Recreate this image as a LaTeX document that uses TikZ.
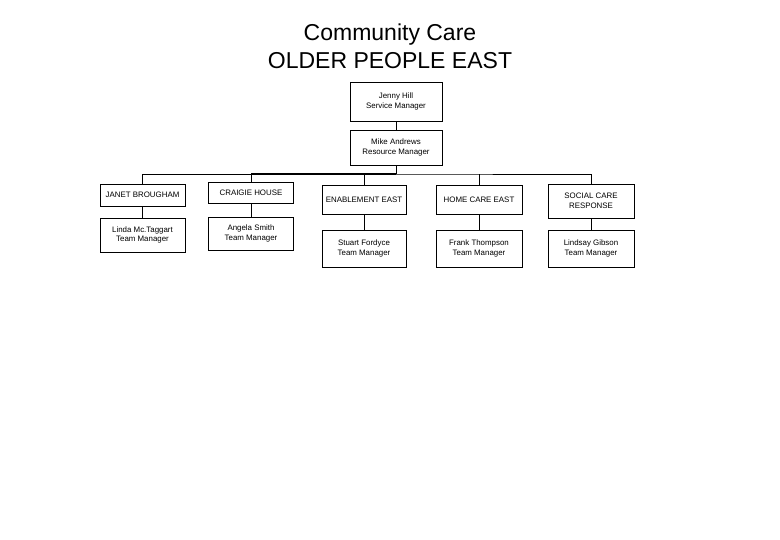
\documentclass[tikz,border=0pt]{standalone}
\usepackage{fontspec}
\setmainfont{Liberation Sans}
\begin{document}
\begin{tikzpicture}[x=1pt,y=-1pt,
  box/.style={draw,line width=0.8pt,inner sep=0pt,align=center,
    font=\fontsize{7.9}{9.5}\selectfont},
  conn/.style={line width=0.8pt},
  busthick/.style={line width=2pt},
  title/.style={align=center,font=\fontsize{23}{28}\selectfont}]
\useasboundingbox (0,0) rectangle (780,540);
\node[title] (title) at (390,46) {Community Care\\OLDER PEOPLE EAST};
\node[box,minimum width=92,minimum height=39] (jenny) at (396,101.5) {Jenny Hill\\Service Manager};
\node[box,minimum width=92,minimum height=35] (mike) at (396,147.5) {Mike Andrews\\Resource Manager};
\node[box,minimum width=85,minimum height=22] (janet) at (142.5,195) {JANET BROUGHAM};
\node[box,minimum width=85,minimum height=34] (linda) at (142.5,235) {Linda Mc.Taggart\\Team Manager};
\node[box,minimum width=85,minimum height=21] (craigie) at (251,192.5) {CRAIGIE HOUSE};
\node[box,minimum width=85,minimum height=33] (angela) at (251,233.5) {Angela Smith\\Team Manager};
\node[box,minimum width=84,minimum height=29] (enable) at (364,199.5) {ENABLEMENT EAST};
\node[box,minimum width=84,minimum height=37] (stuart) at (364,248.5) {Stuart Fordyce\\Team Manager};
\node[box,minimum width=86,minimum height=29] (home) at (479,199.5) {HOME CARE EAST};
\node[box,minimum width=86,minimum height=37] (frank) at (479,248.5) {Frank Thompson\\Team Manager};
\node[box,minimum width=86,minimum height=34] (scr) at (591,201) {SOCIAL CARE\\RESPONSE};
\node[box,minimum width=86,minimum height=37] (lindsay) at (591,248.5) {Lindsay Gibson\\Team Manager};
\coordinate (bus) at (396,174);
\draw[conn] (jenny) -- (mike);
\draw[conn] (mike) -- (bus);
\draw[conn] (janet.north) |- (bus) -| (scr.north);
\draw[busthick] (craigie.north |- bus) -- (bus);
\draw[conn] (craigie.north) -- (craigie.north |- bus);
\draw[conn] (enable.north) -- (enable.north |- bus);
\draw[conn] (home.north) -- (home.north |- bus);
\draw[conn] (janet) -- (linda);
\draw[conn] (craigie) -- (angela);
\draw[conn] (enable) -- (stuart);
\draw[conn] (home) -- (frank);
\draw[conn] (scr) -- (lindsay);
\end{tikzpicture}
\end{document}
